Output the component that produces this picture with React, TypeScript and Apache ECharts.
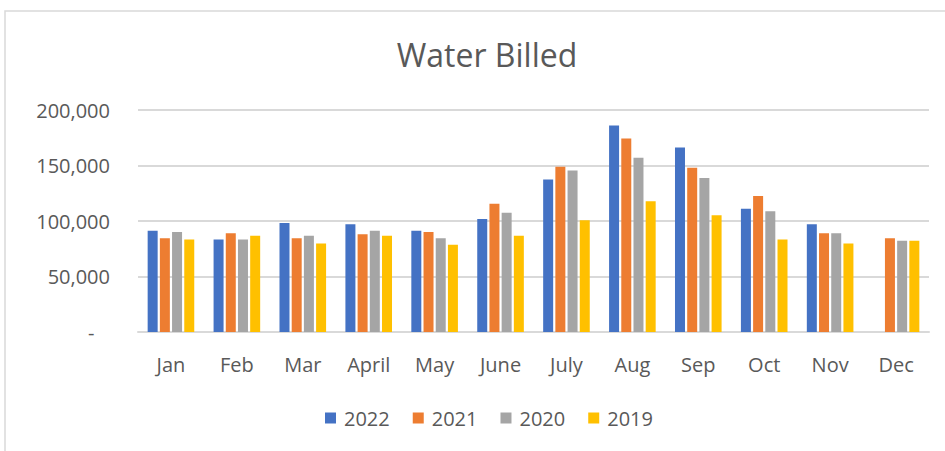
import React, { useEffect, useRef } from "react";
import * as echarts from "echarts";

const categories = ["Jan", "Feb", "Mar", "April", "May", "June", "July", "Aug", "Sep", "Oct", "Nov", "Dec"];
const seriesNames = ["2022", "2021", "2020", "2019"];
const values2022: (number | null)[] = [91300, 83300, 98300, 97100, 91300, 101900, 137500, 186100, 166300, 111100, 97100, null];
const values2021 = [84500, 89000, 84500, 88100, 90200, 115600, 148900, 174400, 148000, 122500, 89000, 84500];
const values2020 = [90200, 83300, 86600, 91300, 84500, 107500, 145600, 157000, 138700, 108800, 89000, 82100];
const values2019 = [83300, 86600, 79700, 86600, 78500, 86600, 100700, 117800, 105200, 83300, 79700, 82100];
const colors = ["#4472C4", "#ED7D31", "#A5A5A5", "#FFC000"];
const FONT = "'Open Sans', 'Noto Sans', sans-serif";

export default function App() {
  const ref = useRef<HTMLDivElement>(null);
  useEffect(() => {
    if (!ref.current) return;
    const chart = echarts.init(ref.current, null, { renderer: "svg" });
    const data = [values2022, values2021, values2020, values2019];
    chart.setOption({
      animation: false,
      backgroundColor: "#ffffff",
      title: {
        text: "Water Billed",
        left: 482,
        textAlign: "center",
        top: 33,
        textStyle: { fontFamily: FONT, fontSize: 32, fontWeight: "normal", color: "#595959" },
      },
      legend: {
        data: seriesNames,
        top: 403,
        left: 320,
        itemWidth: 11,
        itemHeight: 11,
        itemGap: 23,
        icon: "rect",
        textStyle: { fontFamily: FONT, fontSize: 20, color: "#595959", padding: [0, 0, 0, 3] },
      },
      grid: { left: 138, right: 16, top: 110, bottom: 119 },
      xAxis: {
        type: "category",
        data: categories,
        axisTick: { show: false },
        axisLine: { lineStyle: { color: "#d9d9d9", width: 2 } },
        axisLabel: { fontFamily: FONT, fontSize: 20, color: "#595959", margin: 22 },
      },
      yAxis: {
        type: "value",
        min: 0,
        max: 200000,
        interval: 50000,
        axisLine: { show: false },
        axisTick: { show: false },
        splitLine: { lineStyle: { color: "#d9d9d9", width: 2 } },
        axisLabel: {
          fontFamily: FONT,
          fontSize: 20,
          color: "#595959",
          margin: 28,
          formatter: (v: number) => (v === 0 ? "-   " : v.toLocaleString("en-US")),
        },
      },
      series: seriesNames.map((name, i) => ({
        name,
        type: "bar",
        data: data[i],
        barWidth: 10,
        barGap: "22%",
        itemStyle: { color: colors[i] },
      })),
      graphic: [
        {
          type: "polyline",
          shape: { points: [[5, 451], [5, 11], [945, 11]] },
          style: { stroke: "#d9d9d9", lineWidth: 1.5, fill: "none" },
        },
      ],
    });
    return () => chart.dispose();
  }, []);
  return <div ref={ref} style={{ width: 945, height: 451, position: "absolute", left: 0, top: 0 }} />;
}
